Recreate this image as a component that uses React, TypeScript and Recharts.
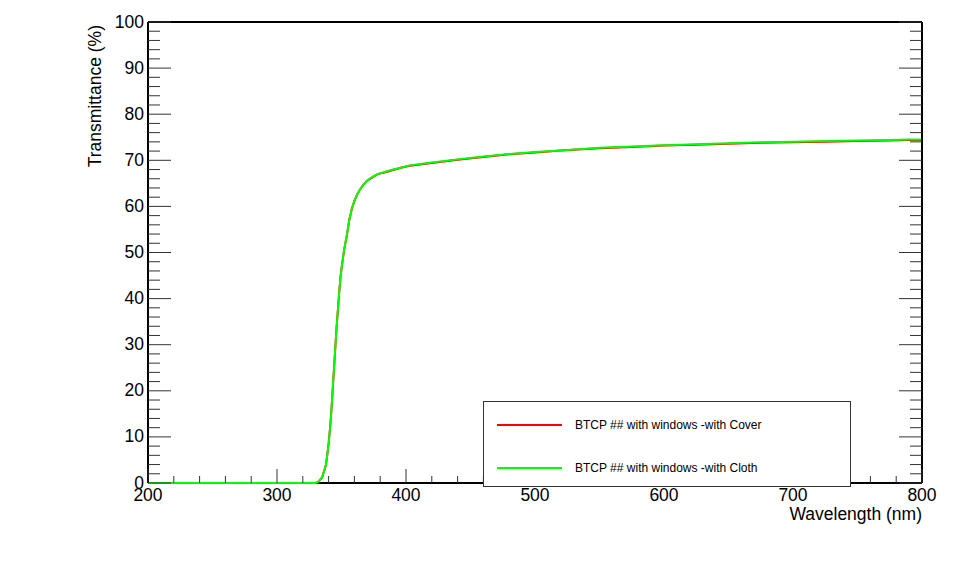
import { LineChart, Line, XAxis, YAxis, Legend, ReferenceLine } from 'recharts';

// wavelength grid (nm), denser on the absorption edge
const wavelengths = [
  200, 250, 300, 320, 330, 332, 335, 338, 340, 341, 342, 344, 346, 348, 349, 350, 352, 354,
  356, 358, 360, 362, 364, 367, 370, 374, 378, 384, 390, 396, 403, 420, 440, 460, 480, 500,
  520, 550, 575, 600, 625, 650, 675, 700, 725, 750, 775, 790, 800,
];

// transmittance (%) - cover
const coverValues = [
  0, 0, 0, 0, 0, 0.3, 1.2, 4, 8.5, 11.5, 15, 24, 33, 40.5, 44, 46.5, 50.5, 53.5,
  57, 59.5, 61.2, 62.5, 63.5, 64.7, 65.6, 66.3, 67.0, 67.4, 67.9, 68.4, 68.8, 69.4, 70.1, 70.7, 71.3, 71.7,
  72.1, 72.6, 72.9, 73.2, 73.4, 73.6, 73.8, 73.9, 74.0, 74.2, 74.3, 74.4, 74.4,
];

// transmittance (%) - cloth
const clothValues = [
  0, 0, 0, 0, 0, 0.3, 1.2, 4, 8.5, 11.5, 15, 24, 33, 40.5, 44, 46.5, 50.5, 53.5,
  57, 59.5, 61.2, 62.5, 63.5, 64.7, 65.6, 66.4, 67.0, 67.5, 68.0, 68.4, 68.9, 69.5, 70.2, 70.8, 71.35, 71.8,
  72.15, 72.7, 73.0, 73.25, 73.5, 73.7, 73.9, 74.0, 74.2, 74.3, 74.4, 74.5, 74.5,
];

const seriesNames = ['BTCP ## with windows -with Cover', 'BTCP ## with windows -with Cloth'];

const xMajorTicks = [200, 300, 400, 500, 600, 700, 800];
const yMajorTicks = [0, 10, 20, 30, 40, 50, 60, 70, 80, 90, 100];

const xTicks = Array.from({ length: 31 }, (_, i) => 200 + i * 20);
const yTicks = Array.from({ length: 51 }, (_, i) => i * 2);

const rows = wavelengths.map((wl, i) => ({ wl, cover: coverValues[i], cloth: clothValues[i] }));

const FONT = '"Liberation Sans", Arial, Helvetica, sans-serif';
const TICK_COLOR = '#333';

const BottomTick = ({ x, y, payload }: any) => {
  const major = xMajorTicks.includes(payload.value);
  return (
    <g>
      <line x1={x} x2={x} y1={y} y2={y - (major ? 14 : 7)} stroke={TICK_COLOR} strokeWidth={1} />
      {major && (
        <text x={x} y={y + 18} textAnchor="middle" fontSize={17.5} fontFamily={FONT} fill="#000">
          {payload.value}
        </text>
      )}
    </g>
  );
};

const TopTick = ({ x, y, payload }: any) => {
  const major = xMajorTicks.includes(payload.value);
  return <line x1={x} x2={x} y1={y} y2={y + (major ? 14 : 7)} stroke={TICK_COLOR} strokeWidth={1} />;
};

const LeftTick = ({ x, y, payload }: any) => {
  const major = yMajorTicks.includes(payload.value);
  return (
    <g>
      <line x1={x} x2={x + (major ? 23 : 12)} y1={y} y2={y} stroke={TICK_COLOR} strokeWidth={1} />
      {major && (
        <text x={x - 4} y={y + 5.5} textAnchor="end" fontSize={17.5} fontFamily={FONT} fill="#000">
          {payload.value}
        </text>
      )}
    </g>
  );
};

const RightTick = ({ x, y, payload }: any) => {
  const major = yMajorTicks.includes(payload.value);
  return <line x1={x} x2={x - (major ? 23 : 12)} y1={y} y2={y} stroke={TICK_COLOR} strokeWidth={1} />;
};

const XTitle = ({ viewBox }: any) => (
  <text
    x={viewBox.x + viewBox.width}
    y={viewBox.y + 37}
    textAnchor="end"
    fontSize={17.5}
    fontFamily={FONT}
    fill="#000"
  >
    Wavelength (nm)
  </text>
);

const YTitle = ({ viewBox }: any) => {
  const x = viewBox.x - 46;
  const y = viewBox.y + 3;
  return (
    <text
      x={x}
      y={y}
      transform={`rotate(-90, ${x}, ${y})`}
      textAnchor="end"
      fontSize={17.5}
      fontFamily={FONT}
      fill="#000"
    >
      Transmittance (%)
    </text>
  );
};

const LegendBox = ({ payload }: any) => {
  const entries = seriesNames
    .map((n) => (payload || []).find((p: any) => p.value === n))
    .filter(Boolean);
  return (
    <div
      style={{
        width: 368,
        height: 86,
        boxSizing: 'border-box',
        border: '1px solid #333',
        background: '#fff',
        fontFamily: FONT,
        fontSize: 12,
        color: '#000',
        position: 'relative',
      }}
    >
      {entries.map((entry: any, i: number) => (
        <div
          key={entry.value}
          style={{ position: 'absolute', left: 13, top: 23 + i * 43 - 8, height: 16, display: 'flex', alignItems: 'center' }}
        >
          <div style={{ width: 65, height: 2, background: entry.color }} />
          <span style={{ marginLeft: 13, whiteSpace: 'nowrap' }}>{entry.value}</span>
        </div>
      ))}
    </div>
  );
};

export default function App() {
  return (
    <div style={{ position: 'absolute', left: 0, top: 0, width: 968, height: 575, background: '#fff' }}>
      <LineChart width={968} height={575} data={rows} margin={{ top: 21, right: 45, bottom: 91, left: 147 }}>
        <XAxis
          dataKey="wl"
          type="number"
          domain={[200, 800]}
          ticks={xTicks}
          interval={0}
          height={1}
          tickSize={0}
          tickMargin={0}
          tickLine={false}
          axisLine={false}
          tick={BottomTick}
          label={{ content: XTitle }}
        />
        <XAxis
          xAxisId="top"
          orientation="top"
          type="number"
          domain={[200, 800]}
          allowDataOverflow
          ticks={xTicks}
          interval={0}
          height={1}
          tickSize={0}
          tickMargin={0}
          tickLine={false}
          axisLine={{ stroke: '#000', strokeWidth: 2 }}
          tick={TopTick}
        />
        <YAxis
          type="number"
          domain={[0, 100]}
          ticks={yTicks}
          interval={0}
          width={1}
          tickSize={0}
          tickMargin={0}
          tickLine={false}
          axisLine={{ stroke: '#000', strokeWidth: 2 }}
          tick={LeftTick}
          label={{ content: YTitle }}
        />
        <YAxis
          yAxisId="right"
          orientation="right"
          type="number"
          domain={[0, 100]}
          allowDataOverflow
          ticks={yTicks}
          interval={0}
          width={1}
          tickSize={0}
          tickMargin={0}
          tickLine={false}
          axisLine={{ stroke: '#000', strokeWidth: 2 }}
          tick={RightTick}
        />
        {/* bottom frame edge, kept under the curves like in the original plot */}
        <ReferenceLine y={0} stroke="#000" strokeWidth={2} />
        <Line
          dataKey="cover"
          name={seriesNames[0]}
          stroke="#ff0000"
          strokeWidth={2}
          dot={false}
          type="linear"
          isAnimationActive={false}
        />
        <Line
          dataKey="cloth"
          name={seriesNames[1]}
          stroke="#00ff00"
          strokeWidth={2}
          dot={false}
          type="linear"
          isAnimationActive={false}
        />
        <Legend
          layout="vertical"
          align="center"
          verticalAlign="middle"
          wrapperStyle={{ left: 483, top: 401, width: 368, height: 86 }}
          content={LegendBox}
        />
      </LineChart>
    </div>
  );
}
